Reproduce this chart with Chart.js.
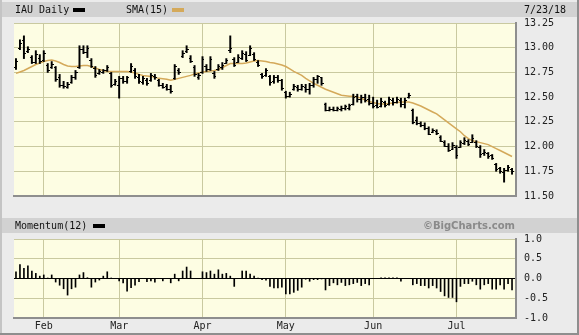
<!DOCTYPE html>
<html>
<head>
<meta charset="utf-8">
<script src="https://cdn.jsdelivr.net/npm/chart.js@4.4.1/dist/chart.umd.min.js"></script>
<style>
  html, body { margin: 0; padding: 0; background: #ebebeb; }
  #wrap { position: relative; width: 579px; height: 335px; background: #ebebeb; overflow: hidden;
          font-family: "DejaVu Sans Mono", monospace; font-size: 10px; color: #111; }
  canvas { position: absolute; left: 0; }
  .band { position: absolute; left: 2px; width: 575px; height: 15px; background: #d2d2d2; }
  .txt { position: absolute; line-height: 15px; white-space: pre; }
  .sw { position: absolute; width: 12px; height: 4px; }
  .edge { position: absolute; background: #8e8e8e; }
</style>
</head>
<body>
<div id="wrap">
  <div class="band" style="top:2px"></div>
  <div class="band" style="top:218px"></div>
  <canvas id="priceChart" width="579" height="210" style="top:0"></canvas>
  <canvas id="momChart" width="579" height="125" style="top:210px"></canvas>
  <div class="txt" style="left:15px;top:2px">IAU Daily</div>
  <div class="sw" style="left:73px;top:8px;background:#000"></div>
  <div class="txt" style="left:126px;top:2px">SMA(15)</div>
  <div class="sw" style="left:172px;top:8px;background:#d4a95a"></div>
  <div class="txt" style="left:524px;top:2px">7/23/18</div>
  <div class="txt" style="left:15px;top:218px">Momentum(12)</div>
  <div class="sw" style="left:93px;top:224px;background:#000"></div>
  <div class="txt" style="right:64px;top:218px;font-family:'DejaVu Sans',sans-serif;font-weight:bold;color:#8a8a8a">©BigCharts.com</div>
  <div class="edge" style="left:0;top:0;width:2px;height:335px;background:#c4c4c4"></div>
  <div class="edge" style="right:0;top:0;width:2px;height:335px"></div>
  <div class="edge" style="left:0;bottom:0;width:579px;height:2px"></div>
</div>
<script>
// month ticks (trading-day index of first session in each month)
const monthLabels = ['Feb', 'Mar', 'Apr', 'May', 'Jun', 'Jul'];
const monthStart = [7, 26, 47, 68, 90, 111];

// IAU daily bars, 1/23/18 .. 7/23/18
const highs = [
  12.89,13.08,13.12,13.01,12.92,12.97,12.93,12.97,12.84,12.86,
  12.81,12.73,12.66,12.65,12.72,12.77,13.02,13.02,13.02,12.89,
  12.81,12.78,12.78,12.82,12.75,12.68,12.71,12.71,12.71,12.84,
  12.79,12.73,12.71,12.69,12.74,12.73,12.68,12.64,12.63,12.62,
  12.83,12.79,12.97,13.02,12.92,12.82,12.74,12.91,12.83,12.91,
  12.76,12.83,12.85,12.89,13.12,12.90,12.93,12.97,12.96,13.02,
  12.95,12.87,12.74,12.79,12.72,12.72,12.72,12.68,12.56,12.55,
  12.63,12.62,12.63,12.63,12.64,12.70,12.72,12.70,12.44,12.40,
  12.40,12.40,12.41,12.42,12.43,12.53,12.53,12.52,12.53,12.52,
  12.50,12.47,12.49,12.46,12.50,12.49,12.50,12.49,12.49,12.54,
  12.38,12.30,12.25,12.24,12.20,12.18,12.17,12.11,12.06,12.03,
  12.04,12.01,12.06,12.09,12.07,12.12,12.06,12.01,11.97,11.94,
  11.92,11.83,11.79,11.78,11.81,11.78
];
const lows = [
  12.78,12.98,12.89,12.95,12.84,12.84,12.84,12.86,12.75,12.79,
  12.66,12.60,12.59,12.59,12.64,12.68,12.79,12.94,12.90,12.80,
  12.70,12.73,12.74,12.76,12.60,12.62,12.49,12.64,12.64,12.75,
  12.69,12.64,12.63,12.62,12.66,12.68,12.61,12.59,12.57,12.54,
  12.68,12.73,12.90,12.95,12.85,12.71,12.68,12.74,12.76,12.77,
  12.69,12.77,12.78,12.84,12.95,12.81,12.85,12.88,12.86,12.92,
  12.87,12.81,12.69,12.71,12.62,12.64,12.65,12.57,12.49,12.50,
  12.57,12.56,12.57,12.55,12.53,12.60,12.64,12.62,12.36,12.36,
  12.36,12.36,12.36,12.37,12.37,12.42,12.45,12.44,12.45,12.42,
  12.39,12.39,12.40,12.40,12.42,12.42,12.44,12.40,12.39,12.49,
  12.23,12.22,12.20,12.17,12.12,12.14,12.12,12.05,12.00,11.95,
  11.97,11.88,11.99,12.02,12.01,12.04,11.99,11.89,11.91,11.88,
  11.87,11.75,11.73,11.64,11.75,11.72
];
const opens = [
  12.80,13.00,13.08,12.97,12.91,12.86,12.90,12.88,12.83,12.80,
  12.80,12.70,12.62,12.60,12.65,12.70,12.80,12.99,12.96,12.88,
  12.79,12.74,12.75,12.77,12.74,12.63,12.62,12.69,12.66,12.76,
  12.77,12.70,12.65,12.67,12.67,12.71,12.67,12.62,12.61,12.58,
  12.69,12.77,12.92,12.97,12.90,12.80,12.70,12.75,12.81,12.78,
  12.74,12.78,12.80,12.85,12.98,12.89,12.86,12.90,12.94,12.93,
  12.94,12.86,12.73,12.72,12.71,12.66,12.70,12.67,12.55,12.51,
  12.58,12.60,12.58,12.60,12.58,12.62,12.68,12.70,12.43,12.37,
  12.38,12.37,12.38,12.39,12.39,12.43,12.51,12.48,12.50,12.48,
  12.44,12.42,12.41,12.45,12.43,12.47,12.45,12.47,12.43,12.50,
  12.37,12.27,12.24,12.22,12.19,12.15,12.16,12.10,12.05,12.01,
  11.98,12.00,12.00,12.04,12.06,12.05,12.05,12.00,11.94,11.93,
  11.91,11.82,11.78,11.74,11.76,11.77
];
const closes = [
  12.87,13.05,12.95,12.99,12.86,12.94,12.87,12.95,12.77,12.84,
  12.68,12.62,12.61,12.63,12.70,12.75,12.99,12.96,13.00,12.82,
  12.72,12.76,12.77,12.80,12.62,12.66,12.69,12.66,12.70,12.82,
  12.71,12.66,12.69,12.64,12.72,12.70,12.62,12.60,12.58,12.56,
  12.81,12.75,12.95,12.99,12.87,12.73,12.72,12.89,12.78,12.89,
  12.71,12.81,12.83,12.88,13.00,12.83,12.91,12.95,12.88,13.00,
  12.89,12.83,12.71,12.77,12.65,12.70,12.67,12.59,12.51,12.53,
  12.61,12.58,12.61,12.58,12.62,12.68,12.71,12.64,12.37,12.38,
  12.37,12.39,12.39,12.41,12.42,12.50,12.48,12.50,12.47,12.44,
  12.41,12.40,12.46,12.42,12.48,12.45,12.48,12.43,12.47,12.52,
  12.25,12.24,12.22,12.19,12.13,12.17,12.14,12.06,12.01,11.97,
  12.02,11.91,12.05,12.07,12.03,12.09,12.01,11.92,11.95,11.90,
  11.88,11.77,11.75,11.76,11.79,11.75
];
// SMA(15)
const sma15 = [
  12.74,12.755,12.77,12.79,12.81,12.83,12.845,12.86,12.87,12.875,
  12.865,12.85,12.83,12.815,12.81,12.81,12.815,12.82,12.82,12.81,
  12.795,12.78,12.77,12.76,12.76,12.76,12.76,12.76,12.76,12.755,
  12.745,12.73,12.72,12.715,12.71,12.70,12.69,12.685,12.68,12.67,
  12.68,12.69,12.70,12.71,12.72,12.735,12.745,12.755,12.76,12.765,
  12.77,12.78,12.80,12.82,12.84,12.84,12.84,12.84,12.845,12.855,
  12.865,12.87,12.865,12.86,12.85,12.845,12.835,12.825,12.81,12.785,
  12.76,12.74,12.72,12.69,12.665,12.64,12.62,12.60,12.58,12.565,
  12.55,12.535,12.52,12.515,12.51,12.51,12.50,12.49,12.47,12.455,
  12.445,12.435,12.43,12.43,12.435,12.44,12.445,12.45,12.45,12.45,
  12.44,12.425,12.41,12.39,12.37,12.35,12.33,12.30,12.27,12.24,
  12.21,12.18,12.15,12.11,12.08,12.06,12.05,12.04,12.03,12.02,
  12.00,11.98,11.96,11.94,11.92,11.90
];
// Momentum(12)
const momentum = [
  0.17,0.35,0.26,0.32,0.19,0.13,0.06,0.09,0.01,0.09,
  -0.09,-0.17,-0.26,-0.42,-0.26,-0.22,0.09,0.15,0.02,-0.22,
  -0.09,-0.04,0.06,0.17,0.01,0.00,-0.06,-0.11,-0.32,-0.23,
  -0.17,-0.08,0.00,-0.08,-0.06,-0.09,0.00,-0.06,0.00,-0.11,
  0.11,-0.06,0.19,0.29,0.19,0.00,0.00,0.17,0.15,0.19,
  0.11,0.22,0.11,0.13,0.06,-0.20,0.00,0.19,0.19,0.11,
  0.06,0.01,-0.03,-0.04,-0.20,-0.24,-0.24,-0.22,-0.39,-0.39,
  -0.35,-0.30,-0.22,-0.02,-0.07,-0.03,-0.03,-0.01,-0.29,-0.18,
  -0.11,-0.16,-0.10,-0.18,-0.16,-0.13,-0.10,-0.18,-0.13,-0.16,
  0.00,0.00,0.02,0.02,0.02,0.02,0.02,-0.07,0.00,0.00,
  -0.16,-0.13,-0.18,-0.18,-0.24,-0.18,-0.24,-0.33,-0.44,-0.48,
  -0.48,-0.59,-0.20,-0.13,-0.13,-0.07,-0.16,-0.27,-0.16,-0.13,
  -0.27,-0.27,-0.16,-0.27,-0.13,-0.29
];

const GRID = '#c9c9a0';
const EDGE = '#8e8e8e';
const SMA_COLOR = '#d4a95a';

Chart.defaults.font.family = '"DejaVu Sans Mono", monospace';
Chart.defaults.font.size = 10;
Chart.defaults.color = '#222';

const plotBg = {
  id: 'plotBg',
  beforeDraw(chart) {
    const { ctx, chartArea: a } = chart;
    ctx.save();
    ctx.fillStyle = '#fdfde3';
    ctx.fillRect(a.left, a.top, a.right - a.left, a.bottom - a.top);
    ctx.restore();
  }
};

// open tick on the left, close tick on the right
const ohlcTicks = {
  id: 'ohlcTicks',
  afterDatasetsDraw(chart) {
    const { ctx, scales: { x, y } } = chart;
    ctx.save();
    ctx.fillStyle = '#000';
    for (let i = 0; i < closes.length; i++) {
      const px = Math.round(x.getPixelForValue(i));
      ctx.fillRect(px - 2, Math.round(y.getPixelForValue(opens[i])), 2, 1);
      ctx.fillRect(px, Math.round(y.getPixelForValue(closes[i])), 2, 1);
    }
    ctx.restore();
  }
};

function xAxis(showLabels) {
  return {
    type: 'linear', min: -0.5, max: 126, offset: false,
    afterBuildTicks: s => { s.ticks = monthStart.map(v => ({ value: v })); },
    afterFit: s => { s.height = showLabels ? 17 : 0; },
    grid: { color: GRID, drawTicks: false, offset: false },
    border: { color: EDGE, width: 2 },
    ticks: {
      display: showLabels, padding: 2, maxRotation: 0, autoSkip: false,
      callback: v => monthLabels[monthStart.indexOf(v)]
    }
  };
}

new Chart(document.getElementById('priceChart'), {
  type: 'bar',
  data: {
    datasets: [{
      type: 'bar',
      data: highs.map((h, i) => ({ x: i, y: [lows[i], h] })),
      backgroundColor: '#000',
      barThickness: 1.3,
      order: 1
    }, {
      type: 'line',
      data: sma15.map((v, i) => ({ x: i, y: v })),
      borderColor: SMA_COLOR,
      borderWidth: 1.5,
      pointRadius: 0,
      order: 2
    }]
  },
  options: {
    responsive: false,
    animation: false,
    devicePixelRatio: 1,
    layout: { padding: { top: 23, left: 14, right: 0, bottom: 2 } },
    plugins: { legend: { display: false }, tooltip: { enabled: false } },
    scales: {
      x: xAxis(false),
      y: {
        position: 'right', min: 11.5, max: 13.25,
        afterFit: s => { s.width = 63; },
        grid: { color: GRID, drawTicks: false },
        border: { color: EDGE, width: 2 },
        ticks: { stepSize: 0.25, padding: 8, callback: v => v.toFixed(2) }
      }
    }
  },
  plugins: [plotBg, ohlcTicks]
});

new Chart(document.getElementById('momChart'), {
  type: 'bar',
  data: {
    datasets: [{
      data: momentum.map((v, i) => ({ x: i, y: v })),
      backgroundColor: '#000',
      barThickness: 1
    }]
  },
  options: {
    responsive: false,
    animation: false,
    devicePixelRatio: 1,
    layout: { padding: { top: 29, left: 14, right: 0, bottom: 0 } },
    plugins: { legend: { display: false }, tooltip: { enabled: false } },
    scales: {
      x: xAxis(true),
      y: {
        position: 'right', min: -1, max: 1,
        afterFit: s => { s.width = 63; },
        grid: { color: c => c.tick.value === 0 ? '#000' : GRID, drawTicks: false },
        border: { color: EDGE, width: 2 },
        ticks: { stepSize: 0.5, padding: 8, callback: v => v.toFixed(1) }
      }
    }
  },
  plugins: [plotBg]
});
</script>
</body>
</html>
